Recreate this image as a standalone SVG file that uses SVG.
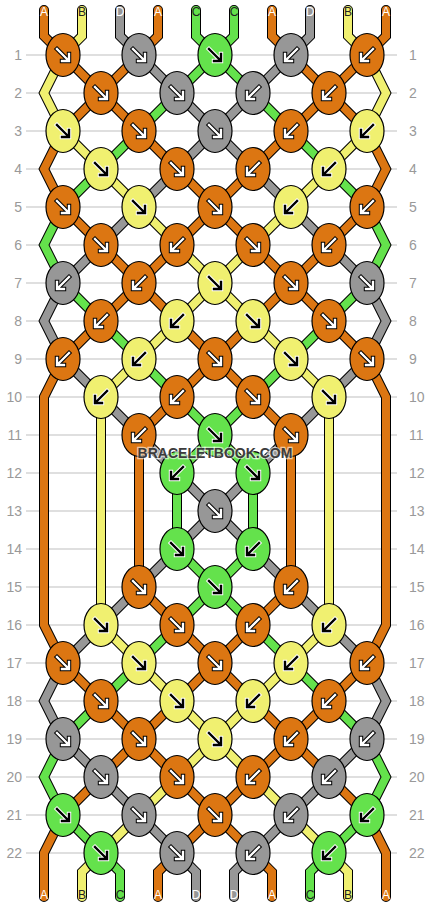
<svg xmlns="http://www.w3.org/2000/svg" xmlns:xlink="http://www.w3.org/1999/xlink" width="430" height="908" viewBox="0 0 430 908">
<style>
.ln{stroke:#bfbfbf;stroke-width:1}
.rl{font-family:"Liberation Sans",Arial,sans-serif;font-size:14px;fill:#999;text-anchor:end}
.rr{font-family:"Liberation Sans",Arial,sans-serif;font-size:14px;fill:#999;text-anchor:start}
.so{fill:none;stroke:#000;stroke-width:10;stroke-linecap:round;stroke-linejoin:miter;stroke-miterlimit:2}
.si{fill:none;stroke-width:8;stroke-linecap:round;stroke-linejoin:miter;stroke-miterlimit:2}
.cA{stroke:#dc7612}.cB{stroke:#f0f070}.cC{stroke:#64e24c}.cD{stroke:#979797}
.k{stroke:#000;stroke-width:1.2}
.o{fill:#dc7612}.y{fill:#f0f070}.g{fill:#64e24c}.d{fill:#979797}
.lt{font-family:"Liberation Sans",Arial,sans-serif;font-size:12px;text-anchor:middle}
.lw{fill:#fff}.lk{fill:#222}
.wm{font-family:"Liberation Sans",Arial,sans-serif;font-size:14px;font-weight:bold;fill:#3c3c3c;stroke:#fff;stroke-opacity:.6;stroke-width:2.5;paint-order:stroke;text-anchor:middle}
</style>
<defs>
<g id="aw">
<path d="M-6,-6L5,5M6,-1L6,6L-1,6" fill="none" stroke="#000" stroke-width="4.4" stroke-linecap="square"/>
<path d="M-6,-6L5,5M6,-1L6,6L-1,6" fill="none" stroke="#fff" stroke-width="2.4" stroke-linecap="square"/>
</g>
<g id="ab">
<path d="M-6,-6L5,5M6,-1L6,6L-1,6" fill="none" stroke="#fff" stroke-width="4.4" stroke-linecap="square"/>
<path d="M-6,-6L5,5M6,-1L6,6L-1,6" fill="none" stroke="#000" stroke-width="2.4" stroke-linecap="square"/>
</g>
</defs>
<rect width="430" height="908" fill="#fff"/>
<g id="grid">
<line class="ln" x1="26" y1="55" x2="397" y2="55"/>
<line class="ln" x1="26" y1="93" x2="397" y2="93"/>
<line class="ln" x1="26" y1="131" x2="397" y2="131"/>
<line class="ln" x1="26" y1="169" x2="397" y2="169"/>
<line class="ln" x1="26" y1="207" x2="397" y2="207"/>
<line class="ln" x1="26" y1="245" x2="397" y2="245"/>
<line class="ln" x1="26" y1="283" x2="397" y2="283"/>
<line class="ln" x1="26" y1="321" x2="397" y2="321"/>
<line class="ln" x1="26" y1="359" x2="397" y2="359"/>
<line class="ln" x1="26" y1="397" x2="397" y2="397"/>
<line class="ln" x1="26" y1="435" x2="397" y2="435"/>
<line class="ln" x1="26" y1="473" x2="397" y2="473"/>
<line class="ln" x1="26" y1="511" x2="397" y2="511"/>
<line class="ln" x1="26" y1="549" x2="397" y2="549"/>
<line class="ln" x1="26" y1="587" x2="397" y2="587"/>
<line class="ln" x1="26" y1="625" x2="397" y2="625"/>
<line class="ln" x1="26" y1="663" x2="397" y2="663"/>
<line class="ln" x1="26" y1="701" x2="397" y2="701"/>
<line class="ln" x1="26" y1="739" x2="397" y2="739"/>
<line class="ln" x1="26" y1="777" x2="397" y2="777"/>
<line class="ln" x1="26" y1="815" x2="397" y2="815"/>
<line class="ln" x1="26" y1="853" x2="397" y2="853"/>
</g>
<g id="row-labels">
<text class="rl" x="22" y="60">1</text><text class="rr" x="409" y="60">1</text>
<text class="rl" x="22" y="98">2</text><text class="rr" x="409" y="98">2</text>
<text class="rl" x="22" y="136">3</text><text class="rr" x="409" y="136">3</text>
<text class="rl" x="22" y="174">4</text><text class="rr" x="409" y="174">4</text>
<text class="rl" x="22" y="212">5</text><text class="rr" x="409" y="212">5</text>
<text class="rl" x="22" y="250">6</text><text class="rr" x="409" y="250">6</text>
<text class="rl" x="22" y="288">7</text><text class="rr" x="409" y="288">7</text>
<text class="rl" x="22" y="326">8</text><text class="rr" x="409" y="326">8</text>
<text class="rl" x="22" y="364">9</text><text class="rr" x="409" y="364">9</text>
<text class="rl" x="22" y="402">10</text><text class="rr" x="409" y="402">10</text>
<text class="rl" x="22" y="440">11</text><text class="rr" x="409" y="440">11</text>
<text class="rl" x="22" y="478">12</text><text class="rr" x="409" y="478">12</text>
<text class="rl" x="22" y="516">13</text><text class="rr" x="409" y="516">13</text>
<text class="rl" x="22" y="554">14</text><text class="rr" x="409" y="554">14</text>
<text class="rl" x="22" y="592">15</text><text class="rr" x="409" y="592">15</text>
<text class="rl" x="22" y="630">16</text><text class="rr" x="409" y="630">16</text>
<text class="rl" x="22" y="668">17</text><text class="rr" x="409" y="668">17</text>
<text class="rl" x="22" y="706">18</text><text class="rr" x="409" y="706">18</text>
<text class="rl" x="22" y="744">19</text><text class="rr" x="409" y="744">19</text>
<text class="rl" x="22" y="782">20</text><text class="rr" x="409" y="782">20</text>
<text class="rl" x="22" y="820">21</text><text class="rr" x="409" y="820">21</text>
<text class="rl" x="22" y="858">22</text><text class="rr" x="409" y="858">22</text>
</g>
<g id="connectors">
<path id="s0o" class="so" d="M44,10L44,36L63,55L101,93L139,131L177,169L215,207L253,245L291,283L329,321L367,359L386,397L386,625L367,663L329,701L291,739L253,777L215,815L177,853L158,872L158,897"/>
<path id="s1o" class="so" d="M82,10L82,36L63,55L44,93L63,131L101,169L139,207L177,245L215,283L253,321L291,359L329,397L329,625L291,663L253,701L215,739L177,777L139,815L101,853L82,872L82,897"/>
<path id="s2o" class="so" d="M120,10L120,36L139,55L177,93L215,131L253,169L291,207L329,245L367,283L386,321L367,359L329,397L291,435L253,473L215,511L177,549L139,587L101,625L63,663L44,701L63,739L101,777L139,815L177,853L196,872L196,897"/>
<path id="s3o" class="so" d="M158,10L158,36L139,55L101,93L63,131L44,169L63,207L101,245L139,283L177,321L215,359L253,397L291,435L291,587L253,625L215,663L177,701L139,739L101,777L63,815L44,853L44,897"/>
<path id="s4o" class="so" d="M196,10L196,36L215,55L253,93L291,131L329,169L367,207L386,245L367,283L329,321L291,359L253,397L215,435L177,473L177,549L215,587L253,625L291,663L329,701L367,739L386,777L367,815L329,853L310,872L310,897"/>
<path id="s5o" class="so" d="M234,10L234,36L215,55L177,93L139,131L101,169L63,207L44,245L63,283L101,321L139,359L177,397L215,435L253,473L253,549L215,587L177,625L139,663L101,701L63,739L44,777L63,815L101,853L120,872L120,897"/>
<path id="s6o" class="so" d="M272,10L272,36L291,55L329,93L367,131L386,169L367,207L329,245L291,283L253,321L215,359L177,397L139,435L139,587L177,625L215,663L253,701L291,739L329,777L367,815L386,853L386,897"/>
<path id="s7o" class="so" d="M310,10L310,36L291,55L253,93L215,131L177,169L139,207L101,245L63,283L44,321L63,359L101,397L139,435L177,473L215,511L253,549L291,587L329,625L367,663L386,701L367,739L329,777L291,815L253,853L234,872L234,897"/>
<path id="s8o" class="so" d="M348,10L348,36L367,55L386,93L367,131L329,169L291,207L253,245L215,283L177,321L139,359L101,397L101,625L139,663L177,701L215,739L253,777L291,815L329,853L348,872L348,897"/>
<path id="s9o" class="so" d="M386,10L386,36L367,55L329,93L291,131L253,169L215,207L177,245L139,283L101,321L63,359L44,397L44,625L63,663L101,701L139,739L177,777L215,815L253,853L272,872L272,897"/>
<path class="si cA" d="M44,10L44,36L63,55L101,93L139,131L177,169L215,207L253,245L291,283L329,321L367,359L386,397L386,625L367,663L329,701L291,739L253,777L215,815L177,853L158,872L158,897"/>
<path class="si cB" d="M82,10L82,36L63,55L44,93L63,131L101,169L139,207L177,245L215,283L253,321L291,359L329,397L329,625L291,663L253,701L215,739L177,777L139,815L101,853L82,872L82,897"/>
<path class="si cD" d="M120,10L120,36L139,55L177,93L215,131L253,169L291,207L329,245L367,283L386,321L367,359L329,397L291,435L253,473L215,511L177,549L139,587L101,625L63,663L44,701L63,739L101,777L139,815L177,853L196,872L196,897"/>
<path class="si cA" d="M158,10L158,36L139,55L101,93L63,131L44,169L63,207L101,245L139,283L177,321L215,359L253,397L291,435L291,587L253,625L215,663L177,701L139,739L101,777L63,815L44,853L44,897"/>
<path class="si cC" d="M196,10L196,36L215,55L253,93L291,131L329,169L367,207L386,245L367,283L329,321L291,359L253,397L215,435L177,473L177,549L215,587L253,625L291,663L329,701L367,739L386,777L367,815L329,853L310,872L310,897"/>
<path class="si cC" d="M234,10L234,36L215,55L177,93L139,131L101,169L63,207L44,245L63,283L101,321L139,359L177,397L215,435L253,473L253,549L215,587L177,625L139,663L101,701L63,739L44,777L63,815L101,853L120,872L120,897"/>
<path class="si cA" d="M272,10L272,36L291,55L329,93L367,131L386,169L367,207L329,245L291,283L253,321L215,359L177,397L139,435L139,587L177,625L215,663L253,701L291,739L329,777L367,815L386,853L386,897"/>
<path class="si cD" d="M310,10L310,36L291,55L253,93L215,131L177,169L139,207L101,245L63,283L44,321L63,359L101,397L139,435L177,473L215,511L253,549L291,587L329,625L367,663L386,701L367,739L329,777L291,815L253,853L234,872L234,897"/>
<path class="si cB" d="M348,10L348,36L367,55L386,93L367,131L329,169L291,207L253,245L215,283L177,321L139,359L101,397L101,625L139,663L177,701L215,739L253,777L291,815L329,853L348,872L348,897"/>
<path class="si cA" d="M386,10L386,36L367,55L329,93L291,131L253,169L215,207L177,245L139,283L101,321L63,359L44,397L44,625L63,663L101,701L139,739L177,777L215,815L253,853L272,872L272,897"/>
</g>
<g id="string-labels">
<text class="lt lw" x="44" y="16">A</text><text class="lt lk" x="82" y="16">B</text><text class="lt lw" x="120" y="16">D</text><text class="lt lw" x="158" y="16">A</text><text class="lt lk" x="196" y="16">C</text><text class="lt lk" x="234" y="16">C</text><text class="lt lw" x="272" y="16">A</text><text class="lt lw" x="310" y="16">D</text><text class="lt lk" x="348" y="16">B</text><text class="lt lw" x="386" y="16">A</text>
<text class="lt lw" x="44" y="899">A</text><text class="lt lk" x="82" y="899">B</text><text class="lt lk" x="120" y="899">C</text><text class="lt lw" x="158" y="899">A</text><text class="lt lw" x="196" y="899">D</text><text class="lt lw" x="234" y="899">D</text><text class="lt lw" x="272" y="899">A</text><text class="lt lk" x="310" y="899">C</text><text class="lt lk" x="348" y="899">B</text><text class="lt lw" x="386" y="899">A</text>
</g>
<g id="knots">
<g id="k1-1"><ellipse class="k o" cx="63" cy="55" rx="17" ry="21.5"/><use href="#aw" transform="translate(63,55)"/></g>
<g id="k1-2"><ellipse class="k d" cx="139" cy="55" rx="17" ry="21.5"/><use href="#aw" transform="translate(139,55)"/></g>
<g id="k1-3"><ellipse class="k g" cx="215" cy="55" rx="17" ry="21.5"/><use href="#ab" transform="translate(215,55)"/></g>
<g id="k1-4"><ellipse class="k d" cx="291" cy="55" rx="17" ry="21.5"/><use href="#aw" transform="translate(291,55) scale(-1,1)"/></g>
<g id="k1-5"><ellipse class="k o" cx="367" cy="55" rx="17" ry="21.5"/><use href="#aw" transform="translate(367,55) scale(-1,1)"/></g>
<g id="k2-1"><ellipse class="k o" cx="101" cy="93" rx="17" ry="21.5"/><use href="#aw" transform="translate(101,93)"/></g>
<g id="k2-2"><ellipse class="k d" cx="177" cy="93" rx="17" ry="21.5"/><use href="#aw" transform="translate(177,93)"/></g>
<g id="k2-3"><ellipse class="k d" cx="253" cy="93" rx="17" ry="21.5"/><use href="#aw" transform="translate(253,93) scale(-1,1)"/></g>
<g id="k2-4"><ellipse class="k o" cx="329" cy="93" rx="17" ry="21.5"/><use href="#aw" transform="translate(329,93) scale(-1,1)"/></g>
<g id="k3-1"><ellipse class="k y" cx="63" cy="131" rx="17" ry="21.5"/><use href="#ab" transform="translate(63,131)"/></g>
<g id="k3-2"><ellipse class="k o" cx="139" cy="131" rx="17" ry="21.5"/><use href="#aw" transform="translate(139,131)"/></g>
<g id="k3-3"><ellipse class="k d" cx="215" cy="131" rx="17" ry="21.5"/><use href="#aw" transform="translate(215,131)"/></g>
<g id="k3-4"><ellipse class="k o" cx="291" cy="131" rx="17" ry="21.5"/><use href="#aw" transform="translate(291,131) scale(-1,1)"/></g>
<g id="k3-5"><ellipse class="k y" cx="367" cy="131" rx="17" ry="21.5"/><use href="#ab" transform="translate(367,131) scale(-1,1)"/></g>
<g id="k4-1"><ellipse class="k y" cx="101" cy="169" rx="17" ry="21.5"/><use href="#ab" transform="translate(101,169)"/></g>
<g id="k4-2"><ellipse class="k o" cx="177" cy="169" rx="17" ry="21.5"/><use href="#aw" transform="translate(177,169)"/></g>
<g id="k4-3"><ellipse class="k o" cx="253" cy="169" rx="17" ry="21.5"/><use href="#aw" transform="translate(253,169) scale(-1,1)"/></g>
<g id="k4-4"><ellipse class="k y" cx="329" cy="169" rx="17" ry="21.5"/><use href="#ab" transform="translate(329,169) scale(-1,1)"/></g>
<g id="k5-1"><ellipse class="k o" cx="63" cy="207" rx="17" ry="21.5"/><use href="#aw" transform="translate(63,207)"/></g>
<g id="k5-2"><ellipse class="k y" cx="139" cy="207" rx="17" ry="21.5"/><use href="#ab" transform="translate(139,207)"/></g>
<g id="k5-3"><ellipse class="k o" cx="215" cy="207" rx="17" ry="21.5"/><use href="#aw" transform="translate(215,207)"/></g>
<g id="k5-4"><ellipse class="k y" cx="291" cy="207" rx="17" ry="21.5"/><use href="#ab" transform="translate(291,207) scale(-1,1)"/></g>
<g id="k5-5"><ellipse class="k o" cx="367" cy="207" rx="17" ry="21.5"/><use href="#aw" transform="translate(367,207) scale(-1,1)"/></g>
<g id="k6-1"><ellipse class="k o" cx="101" cy="245" rx="17" ry="21.5"/><use href="#aw" transform="translate(101,245)"/></g>
<g id="k6-2"><ellipse class="k o" cx="177" cy="245" rx="17" ry="21.5"/><use href="#aw" transform="translate(177,245) scale(-1,1)"/></g>
<g id="k6-3"><ellipse class="k o" cx="253" cy="245" rx="17" ry="21.5"/><use href="#aw" transform="translate(253,245)"/></g>
<g id="k6-4"><ellipse class="k o" cx="329" cy="245" rx="17" ry="21.5"/><use href="#aw" transform="translate(329,245) scale(-1,1)"/></g>
<g id="k7-1"><ellipse class="k d" cx="63" cy="283" rx="17" ry="21.5"/><use href="#aw" transform="translate(63,283) scale(-1,1)"/></g>
<g id="k7-2"><ellipse class="k o" cx="139" cy="283" rx="17" ry="21.5"/><use href="#aw" transform="translate(139,283) scale(-1,1)"/></g>
<g id="k7-3"><ellipse class="k y" cx="215" cy="283" rx="17" ry="21.5"/><use href="#ab" transform="translate(215,283)"/></g>
<g id="k7-4"><ellipse class="k o" cx="291" cy="283" rx="17" ry="21.5"/><use href="#aw" transform="translate(291,283)"/></g>
<g id="k7-5"><ellipse class="k d" cx="367" cy="283" rx="17" ry="21.5"/><use href="#aw" transform="translate(367,283)"/></g>
<g id="k8-1"><ellipse class="k o" cx="101" cy="321" rx="17" ry="21.5"/><use href="#aw" transform="translate(101,321) scale(-1,1)"/></g>
<g id="k8-2"><ellipse class="k y" cx="177" cy="321" rx="17" ry="21.5"/><use href="#ab" transform="translate(177,321) scale(-1,1)"/></g>
<g id="k8-3"><ellipse class="k y" cx="253" cy="321" rx="17" ry="21.5"/><use href="#ab" transform="translate(253,321)"/></g>
<g id="k8-4"><ellipse class="k o" cx="329" cy="321" rx="17" ry="21.5"/><use href="#aw" transform="translate(329,321)"/></g>
<g id="k9-1"><ellipse class="k o" cx="63" cy="359" rx="17" ry="21.5"/><use href="#aw" transform="translate(63,359) scale(-1,1)"/></g>
<g id="k9-2"><ellipse class="k y" cx="139" cy="359" rx="17" ry="21.5"/><use href="#ab" transform="translate(139,359) scale(-1,1)"/></g>
<g id="k9-3"><ellipse class="k o" cx="215" cy="359" rx="17" ry="21.5"/><use href="#aw" transform="translate(215,359)"/></g>
<g id="k9-4"><ellipse class="k y" cx="291" cy="359" rx="17" ry="21.5"/><use href="#ab" transform="translate(291,359)"/></g>
<g id="k9-5"><ellipse class="k o" cx="367" cy="359" rx="17" ry="21.5"/><use href="#aw" transform="translate(367,359)"/></g>
<g id="k10-1"><ellipse class="k y" cx="101" cy="397" rx="17" ry="21.5"/><use href="#ab" transform="translate(101,397) scale(-1,1)"/></g>
<g id="k10-2"><ellipse class="k o" cx="177" cy="397" rx="17" ry="21.5"/><use href="#aw" transform="translate(177,397) scale(-1,1)"/></g>
<g id="k10-3"><ellipse class="k o" cx="253" cy="397" rx="17" ry="21.5"/><use href="#aw" transform="translate(253,397)"/></g>
<g id="k10-4"><ellipse class="k y" cx="329" cy="397" rx="17" ry="21.5"/><use href="#ab" transform="translate(329,397)"/></g>
<g id="k11-2"><ellipse class="k o" cx="139" cy="435" rx="17" ry="21.5"/><use href="#aw" transform="translate(139,435) scale(-1,1)"/></g>
<g id="k11-3"><ellipse class="k g" cx="215" cy="435" rx="17" ry="21.5"/><use href="#ab" transform="translate(215,435)"/></g>
<g id="k11-4"><ellipse class="k o" cx="291" cy="435" rx="17" ry="21.5"/><use href="#aw" transform="translate(291,435)"/></g>
<g id="k12-2"><ellipse class="k g" cx="177" cy="473" rx="17" ry="21.5"/><use href="#ab" transform="translate(177,473) scale(-1,1)"/></g>
<g id="k12-3"><ellipse class="k g" cx="253" cy="473" rx="17" ry="21.5"/><use href="#ab" transform="translate(253,473)"/></g>
<g id="k13-3"><ellipse class="k d" cx="215" cy="511" rx="17" ry="21.5"/><use href="#aw" transform="translate(215,511)"/></g>
<g id="k14-2"><ellipse class="k g" cx="177" cy="549" rx="17" ry="21.5"/><use href="#ab" transform="translate(177,549)"/></g>
<g id="k14-3"><ellipse class="k g" cx="253" cy="549" rx="17" ry="21.5"/><use href="#ab" transform="translate(253,549) scale(-1,1)"/></g>
<g id="k15-2"><ellipse class="k o" cx="139" cy="587" rx="17" ry="21.5"/><use href="#aw" transform="translate(139,587)"/></g>
<g id="k15-3"><ellipse class="k g" cx="215" cy="587" rx="17" ry="21.5"/><use href="#ab" transform="translate(215,587)"/></g>
<g id="k15-4"><ellipse class="k o" cx="291" cy="587" rx="17" ry="21.5"/><use href="#aw" transform="translate(291,587) scale(-1,1)"/></g>
<g id="k16-1"><ellipse class="k y" cx="101" cy="625" rx="17" ry="21.5"/><use href="#ab" transform="translate(101,625)"/></g>
<g id="k16-2"><ellipse class="k o" cx="177" cy="625" rx="17" ry="21.5"/><use href="#aw" transform="translate(177,625)"/></g>
<g id="k16-3"><ellipse class="k o" cx="253" cy="625" rx="17" ry="21.5"/><use href="#aw" transform="translate(253,625) scale(-1,1)"/></g>
<g id="k16-4"><ellipse class="k y" cx="329" cy="625" rx="17" ry="21.5"/><use href="#ab" transform="translate(329,625) scale(-1,1)"/></g>
<g id="k17-1"><ellipse class="k o" cx="63" cy="663" rx="17" ry="21.5"/><use href="#aw" transform="translate(63,663)"/></g>
<g id="k17-2"><ellipse class="k y" cx="139" cy="663" rx="17" ry="21.5"/><use href="#ab" transform="translate(139,663)"/></g>
<g id="k17-3"><ellipse class="k o" cx="215" cy="663" rx="17" ry="21.5"/><use href="#aw" transform="translate(215,663)"/></g>
<g id="k17-4"><ellipse class="k y" cx="291" cy="663" rx="17" ry="21.5"/><use href="#ab" transform="translate(291,663) scale(-1,1)"/></g>
<g id="k17-5"><ellipse class="k o" cx="367" cy="663" rx="17" ry="21.5"/><use href="#aw" transform="translate(367,663) scale(-1,1)"/></g>
<g id="k18-1"><ellipse class="k o" cx="101" cy="701" rx="17" ry="21.5"/><use href="#aw" transform="translate(101,701)"/></g>
<g id="k18-2"><ellipse class="k y" cx="177" cy="701" rx="17" ry="21.5"/><use href="#ab" transform="translate(177,701)"/></g>
<g id="k18-3"><ellipse class="k y" cx="253" cy="701" rx="17" ry="21.5"/><use href="#ab" transform="translate(253,701) scale(-1,1)"/></g>
<g id="k18-4"><ellipse class="k o" cx="329" cy="701" rx="17" ry="21.5"/><use href="#aw" transform="translate(329,701) scale(-1,1)"/></g>
<g id="k19-1"><ellipse class="k d" cx="63" cy="739" rx="17" ry="21.5"/><use href="#aw" transform="translate(63,739)"/></g>
<g id="k19-2"><ellipse class="k o" cx="139" cy="739" rx="17" ry="21.5"/><use href="#aw" transform="translate(139,739)"/></g>
<g id="k19-3"><ellipse class="k y" cx="215" cy="739" rx="17" ry="21.5"/><use href="#ab" transform="translate(215,739)"/></g>
<g id="k19-4"><ellipse class="k o" cx="291" cy="739" rx="17" ry="21.5"/><use href="#aw" transform="translate(291,739) scale(-1,1)"/></g>
<g id="k19-5"><ellipse class="k d" cx="367" cy="739" rx="17" ry="21.5"/><use href="#aw" transform="translate(367,739) scale(-1,1)"/></g>
<g id="k20-1"><ellipse class="k d" cx="101" cy="777" rx="17" ry="21.5"/><use href="#aw" transform="translate(101,777)"/></g>
<g id="k20-2"><ellipse class="k o" cx="177" cy="777" rx="17" ry="21.5"/><use href="#aw" transform="translate(177,777)"/></g>
<g id="k20-3"><ellipse class="k o" cx="253" cy="777" rx="17" ry="21.5"/><use href="#aw" transform="translate(253,777) scale(-1,1)"/></g>
<g id="k20-4"><ellipse class="k d" cx="329" cy="777" rx="17" ry="21.5"/><use href="#aw" transform="translate(329,777) scale(-1,1)"/></g>
<g id="k21-1"><ellipse class="k g" cx="63" cy="815" rx="17" ry="21.5"/><use href="#ab" transform="translate(63,815)"/></g>
<g id="k21-2"><ellipse class="k d" cx="139" cy="815" rx="17" ry="21.5"/><use href="#aw" transform="translate(139,815)"/></g>
<g id="k21-3"><ellipse class="k o" cx="215" cy="815" rx="17" ry="21.5"/><use href="#aw" transform="translate(215,815)"/></g>
<g id="k21-4"><ellipse class="k d" cx="291" cy="815" rx="17" ry="21.5"/><use href="#aw" transform="translate(291,815) scale(-1,1)"/></g>
<g id="k21-5"><ellipse class="k g" cx="367" cy="815" rx="17" ry="21.5"/><use href="#ab" transform="translate(367,815) scale(-1,1)"/></g>
<g id="k22-1"><ellipse class="k g" cx="101" cy="853" rx="17" ry="21.5"/><use href="#ab" transform="translate(101,853)"/></g>
<g id="k22-2"><ellipse class="k d" cx="177" cy="853" rx="17" ry="21.5"/><use href="#aw" transform="translate(177,853)"/></g>
<g id="k22-3"><ellipse class="k d" cx="253" cy="853" rx="17" ry="21.5"/><use href="#aw" transform="translate(253,853) scale(-1,1)"/></g>
<g id="k22-4"><ellipse class="k g" cx="329" cy="853" rx="17" ry="21.5"/><use href="#ab" transform="translate(329,853) scale(-1,1)"/></g>
</g>
<text class="wm" x="215" y="458">BRACELETBOOK.COM</text>
</svg>
